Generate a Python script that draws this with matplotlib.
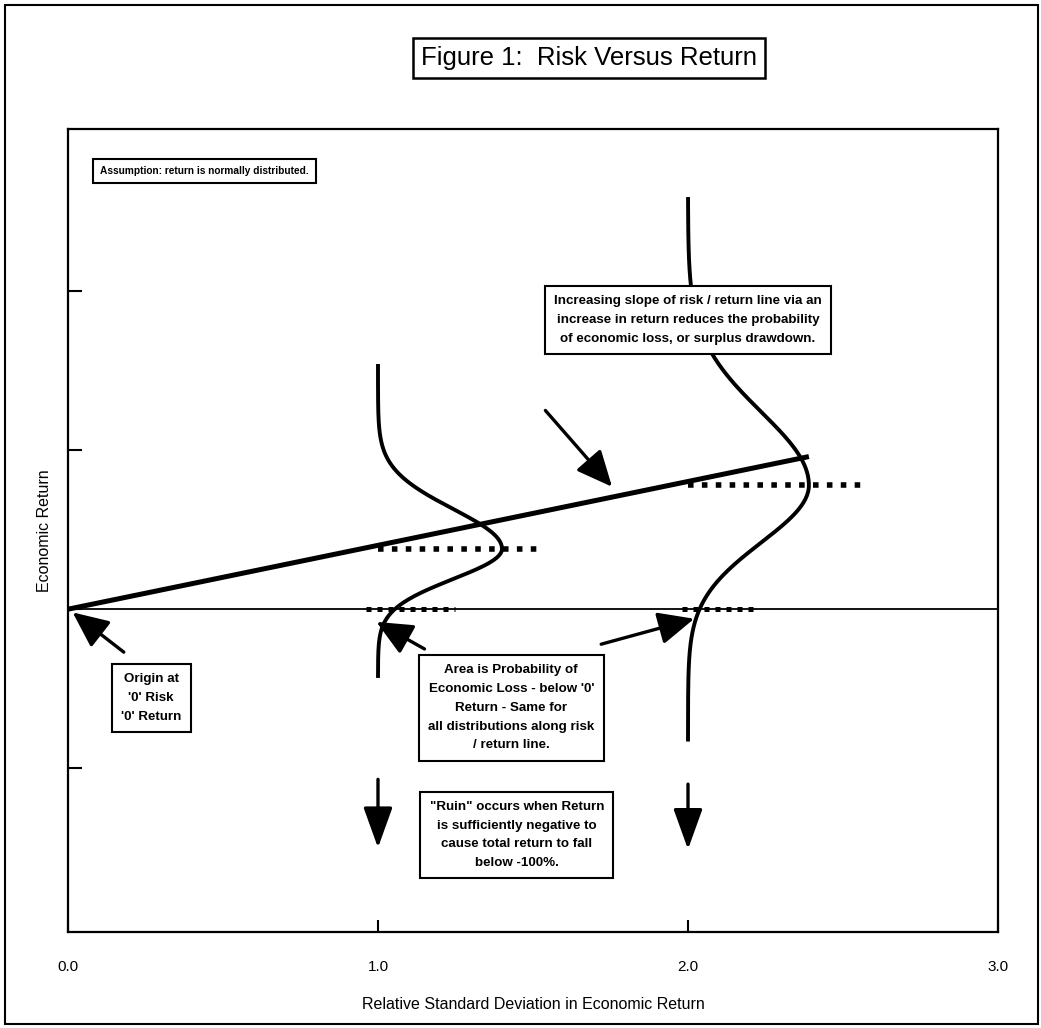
import numpy as np
import matplotlib
matplotlib.use("Agg")
import matplotlib.pyplot as plt
from matplotlib.patches import Rectangle

plt.rcParams["font.family"] = ["Liberation Sans", "DejaVu Sans"]

# risk / return line
risk_line_x = [0.0, 2.39]
risk_line_y = [0.0, 0.96]

# the two return distributions drawn along the line
dist_base = [1.0, 2.0]
dist_mean = [0.38, 0.78]
dist_sd_up = [0.25, 0.46]
dist_sd_down = [0.19, 0.36]
dist_peak = [0.40, 0.39]
dist_top = [1.53, 2.58]
dist_bottom = [-0.42, -0.82]

# dotted markers: mean level and loss area on the zero line
mean_dot_end = [1.52, 2.56]
loss_dot_start = [0.96, 1.98]
loss_dot_end = [1.25, 2.21]

x_ticks = [0, 1, 2, 3]
x_tick_labels = ["0.0", "1.0", "2.0", "3.0"]
y_ticks = [-1, 0, 1, 2]

# annotation arrows: (tail, tip)
arrows = [
    ((0.18, -0.27), (0.015, -0.02)),
    ((1.15, -0.25), (0.995, -0.08)),
    ((1.72, -0.22), (2.02, -0.06)),
    ((1.54, 1.25), (1.755, 0.77)),
]
down_arrows = [((1.0, -1.07), (1.0, -1.50)), ((2.0, -1.10), (2.0, -1.51))]

notes = [
    (0.44, 2.755, "Assumption: return is normally distributed.", 7.3),
    (2.0, 1.82, "Increasing slope of risk / return line via an\n"
                "increase in return reduces the probability\n"
                "of economic loss, or surplus drawdown.", 9.6),
    (0.268, -0.56, "Origin at\n'0' Risk\n'0' Return", 9.6),
    (1.43, -0.62, "Area is Probability of\nEconomic Loss - below '0'\n"
                  "Return - Same for\nall distributions along risk\n/ return line.", 9.6),
    (1.448, -1.42, "\"Ruin\" occurs when Return\nis sufficiently negative to\n"
                   "cause total return to fall\nbelow -100%.", 9.6),
]

fig = plt.figure(figsize=(10.41, 10.28), dpi=100)
ax = fig.add_axes([0.0653, 0.0934, 0.8934, 0.7811])

ax.axhline(0, color="black", lw=1.3, zorder=2)
ax.plot(risk_line_x, risk_line_y, color="black", lw=3.6, solid_capstyle="butt", zorder=4)

for i in range(2):
    y = np.linspace(dist_bottom[i], dist_top[i], 300)
    sd = np.where(y >= dist_mean[i], dist_sd_up[i], dist_sd_down[i])
    x = dist_base[i] + dist_peak[i] * np.exp(-0.5 * ((y - dist_mean[i]) / sd) ** 2)
    ax.plot(x, y, color="black", lw=2.8, zorder=4)
    ax.plot([dist_base[i], mean_dot_end[i]], [dist_mean[i], dist_mean[i]],
            color="black", lw=4.0, linestyle=(0, (1, 1.5)), zorder=3)
    ax.plot([loss_dot_start[i], loss_dot_end[i]], [0, 0],
            color="black", lw=3.6, linestyle=(0, (1, 1.2)), zorder=3)

for tail, tip in arrows:
    ax.annotate("", xy=tip, xytext=tail,
                arrowprops=dict(arrowstyle="-|>,head_length=1.1,head_width=0.5",
                                lw=2.4, color="black", shrinkA=0, shrinkB=0,
                                mutation_scale=20), zorder=5)
for tail, tip in down_arrows:
    ax.annotate("", xy=tip, xytext=tail,
                arrowprops=dict(arrowstyle="-|>,head_length=1.25,head_width=0.45",
                                lw=2.4, color="black", shrinkA=0, shrinkB=0,
                                mutation_scale=20), zorder=5)

for x, y, txt, fs in notes:
    ax.text(x, y, txt, ha="center", va="center", fontsize=fs, fontweight="bold",
            linespacing=1.75, zorder=6,
            bbox=dict(boxstyle="square,pad=0.7", fc="white", ec="black", lw=1.5))

ax.set_xlim(0, 3)
ax.set_ylim(-2.03, 3.02)
ax.set_xticks(x_ticks)
ax.set_xticklabels(x_tick_labels)
ax.set_yticks(y_ticks)
ax.set_yticklabels([])
ax.tick_params(axis="x", direction="in", length=9, width=1.5, pad=20, labelsize=11)
ax.tick_params(axis="y", direction="in", length=10, width=1.5)
for s in ax.spines.values():
    s.set_linewidth(1.6)
ax.set_xlabel("Relative Standard Deviation in Economic Return", fontsize=11.5, labelpad=17)
ax.set_ylabel("Economic Return", fontsize=11.5, labelpad=8)

fig.text(0.566, 0.9436, "Figure 1:  Risk Versus Return", ha="center", va="center",
         fontsize=18.5, bbox=dict(boxstyle="square,pad=0.3", fc="white", ec="black", lw=1.8))
fig.patches.append(Rectangle((0.005, 0.004), 0.992, 0.991, transform=fig.transFigure,
                             fill=False, ec="black", lw=1.5))

fig.savefig("out.png", dpi=100)
